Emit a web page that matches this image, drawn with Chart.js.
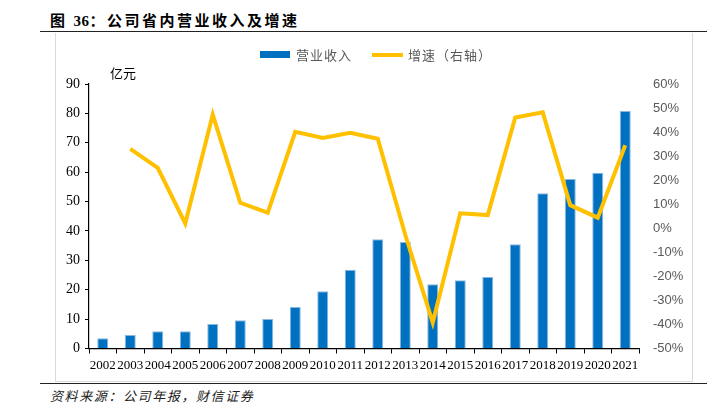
<!DOCTYPE html>
<html>
<head>
<meta charset="utf-8">
<script src="https://cdn.jsdelivr.net/npm/chart.js@4.4.1/dist/chart.umd.min.js"></script>
<style>
  html, body { margin: 0; padding: 0; background: #fff; }
  #wrap { position: relative; width: 720px; height: 420px; overflow: hidden; }
  #title { position: absolute; left: 50px; top: 9px; font: bold 15px "Noto Sans CJK SC", sans-serif; letter-spacing: 2.5px; color: #000; }
  #title .num { font-family: "Liberation Serif", serif; letter-spacing: 0.5px; }
  .rule { position: absolute; left: 40px; width: 667px; height: 0; border-top: 1.6px solid #222; }
  #frame { position: absolute; left: 55px; top: 33px; width: 636px; height: 348px; border: 1px solid #dadada; border-top: none; }
  #source { position: absolute; left: 50px; top: 386px; font: italic 13px "Noto Sans CJK SC", serif; letter-spacing: 1.6px; color: #222; }
  canvas { position: absolute; left: 0; top: 0; }
</style>
</head>
<body>
<div id="wrap">
  <div id="title">图 <span class="num">36</span>：公司省内营业收入及增速</div>
  <div class="rule" style="top:31px"></div>
  <div id="frame"></div>
  <div class="rule" style="top:383px"></div>
  <div id="source">资料来源：公司年报，财信证券</div>
  <canvas id="chart" width="720" height="420"></canvas>
</div>
<script>
// data
const years = ['2002','2003','2004','2005','2006','2007','2008','2009','2010','2011',
               '2012','2013','2014','2015','2016','2017','2018','2019','2020','2021'];
const revenue = [3.5, 4.6, 5.9, 5.9, 8.3, 9.6, 10.0, 14.1, 19.5, 26.8,
                 37.2, 36.2, 21.9, 23.2, 24.3, 35.5, 52.8, 57.7, 59.8, 80.8];
const growth = [null, 33.0, 25.1, 2.0, 47.3, 10.6, 6.5, 40.1, 37.6, 39.7,
                37.2, -2.7, -39.2, 6.2, 5.5, 46.1, 48.2, 9.6, 4.4, 34.5];
const leftTicks = [0, 90, 10];     // min, max, step
const rightTicks = [-50, 60, 10];  // percent

const BLUE = '#0070c0';
const GOLD = '#ffc000';
const GREY = '#595959';

// legend + unit label drawn by hand
const decor = {
  id: 'decor',
  afterDraw(chart) {
    const ctx = chart.ctx;
    ctx.save();
    ctx.fillStyle = BLUE;
    ctx.fillRect(260, 51, 30, 7);
    ctx.strokeStyle = GOLD;
    ctx.lineWidth = 4;
    ctx.beginPath();
    ctx.moveTo(372, 55);
    ctx.lineTo(403, 55);
    ctx.stroke();
    ctx.fillStyle = GREY;
    ctx.font = '13px "Noto Sans CJK SC", sans-serif';
    ctx.textBaseline = 'middle';
    ctx.letterSpacing = '1px';
    ctx.fillText('营业收入', 296, 55);
    ctx.fillText('增速（右轴）', 408, 55);
    ctx.fillStyle = '#000';
    ctx.letterSpacing = '0px';
    ctx.fillText('亿元', 110, 73);
    ctx.restore();
  }
};

new Chart(document.getElementById('chart'), {
  data: {
    labels: years,
    datasets: [
      {
        type: 'line',
        label: '增速（右轴）',
        data: growth,
        yAxisID: 'y1',
        borderColor: GOLD,
        borderWidth: 4,
        pointRadius: 0,
        tension: 0,
        order: 0
      },
      {
        type: 'bar',
        label: '营业收入',
        data: revenue,
        yAxisID: 'y',
        backgroundColor: BLUE,
        borderColor: '#8ab8e0',
        borderWidth: { top: 1, left: 1, right: 1, bottom: 0 },
        borderSkipped: 'bottom',
        barPercentage: 0.4,
        categoryPercentage: 1,
        order: 1
      }
    ]
  },
  options: {
    responsive: false,
    animation: false,
    layout: { padding: { top: 84, left: 0, right: 0, bottom: 0 } },
    plugins: { legend: { display: false }, tooltip: { enabled: false } },
    scales: {
      x: {
        offset: true,
        grid: { display: true, drawOnChartArea: false, drawTicks: true, tickLength: 5, color: '#000', offset: true },
        border: { display: true, color: '#000', width: 1.2 },
        ticks: { color: '#000', font: { family: 'Liberation Serif', size: 13 }, padding: 4, maxRotation: 0, autoSkip: false },
        afterFit(s) { s.height = 71.5; }
      },
      y: {
        position: 'left',
        min: leftTicks[0], max: leftTicks[1],
        ticks: { stepSize: leftTicks[2], color: '#000', font: { family: 'Liberation Serif', size: 14 }, padding: 5 },
        grid: { display: true, drawOnChartArea: false, drawTicks: true, tickLength: 4, color: '#000' },
        border: { display: true, color: '#000', width: 1.2 },
        afterFit(s) { s.width = 89; }
      },
      y1: {
        position: 'right',
        min: rightTicks[0], max: rightTicks[1],
        ticks: {
          stepSize: rightTicks[2], color: GREY,
          font: { family: 'Liberation Sans', size: 13 }, padding: 14,
          callback: v => v + '%'
        },
        grid: { display: false, drawTicks: false },
        border: { display: false },
        afterFit(s) { s.width = 81; }
      }
    }
  },
  plugins: [decor]
});
</script>
</body>
</html>
